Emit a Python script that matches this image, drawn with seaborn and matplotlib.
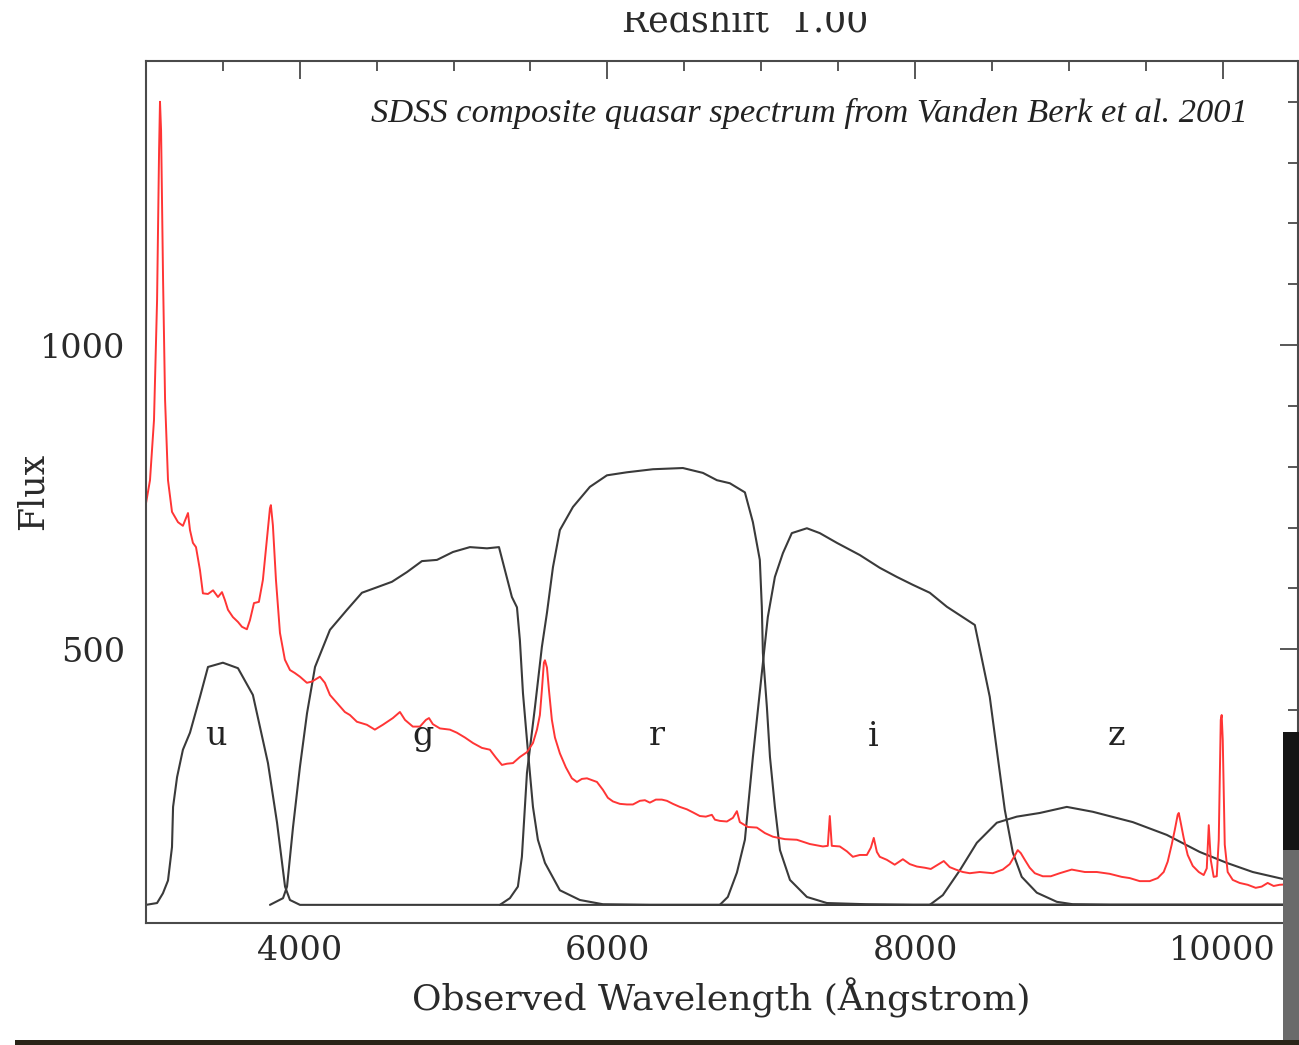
import matplotlib
matplotlib.use("Agg")
import matplotlib.pyplot as plt
import seaborn as sns
import pandas as pd
from matplotlib.patches import Rectangle
from matplotlib.ticker import MultipleLocator

# ---------------- data ----------------
spec_wave = [3000, 3026, 3052, 3072, 3085, 3091, 3098, 3111, 3124, 3143,
             3169, 3208, 3240, 3260, 3273, 3286, 3305, 3325, 3351, 3370,
             3403, 3436, 3468, 3494, 3513, 3533, 3565, 3598, 3624, 3656,
             3676, 3702, 3734, 3760, 3786, 3806, 3812, 3825, 3845, 3871,
             3903, 3936, 3968, 4001, 4046, 4079, 4131, 4163, 4196, 4241,
             4293, 4326, 4371, 4436, 4488, 4540, 4605, 4651, 4684, 4735,
             4781, 4820, 4840, 4865, 4911, 4976, 5021, 5074, 5126, 5184,
             5236, 5275, 5314, 5347, 5386, 5431, 5477, 5516, 5542, 5561,
             5574, 5587, 5594, 5607, 5620, 5639, 5659, 5691, 5730, 5769,
             5802, 5834, 5867, 5899, 5932, 5971, 6003, 6036, 6081, 6127,
             6166, 6211, 6244, 6276, 6315, 6354, 6387, 6426, 6471, 6517,
             6556, 6601, 6640, 6679, 6699, 6731, 6777, 6816, 6842, 6861,
             6913, 6972, 7024, 7076, 7154, 7232, 7316, 7401, 7433, 7446,
             7459, 7511, 7557, 7596, 7641, 7687, 7713, 7732, 7752, 7771,
             7817, 7868, 7921, 7966, 8012, 8064, 8103, 8148, 8187, 8226,
             8265, 8311, 8356, 8421, 8506, 8571, 8616, 8649, 8668, 8688,
             8714, 8746, 8779, 8831, 8883, 8941, 9019, 9104, 9182, 9266,
             9344, 9396, 9461, 9526, 9578, 9617, 9643, 9669, 9689, 9708,
             9715, 9727, 9747, 9773, 9806, 9845, 9877, 9897, 9910, 9923,
             9942, 9962, 9975, 9988, 9994, 10001, 10014, 10033, 10066, 10111,
             10163, 10215, 10254, 10293, 10332, 10371, 10436]
spec_flux = [740, 778, 877, 1074, 1320, 1400, 1353, 1107, 910, 778,
             726, 709, 703, 716, 724, 696, 675, 668, 630, 592,
             591, 597, 586, 594, 581, 565, 553, 545, 537, 533,
             548, 576, 578, 614, 680, 732, 737, 704, 614, 527,
             483, 466, 461, 455, 445, 447, 455, 445, 425, 412,
             397, 392, 381, 376, 368, 376, 387, 397, 384, 373,
             373, 384, 387, 377, 370, 368, 363, 355, 346, 338,
             335, 322, 310, 312, 313, 323, 331, 346, 368, 392,
             433, 478, 482, 470, 433, 384, 355, 329, 306, 288,
             282, 287, 288, 285, 282, 269, 256, 250, 246, 245,
             245, 251, 252, 248, 253, 253, 251, 246, 241, 237,
             232, 226, 225, 228, 220, 218, 217, 223, 234, 216,
             208, 207, 198, 192, 188, 187, 180, 176, 177, 226,
             177, 176, 168, 159, 162, 162, 174, 190, 167, 159,
             154, 146, 155, 147, 143, 141, 139, 146, 152, 142,
             138, 134, 132, 134, 132, 138, 147, 161, 170, 165,
             154, 141, 132, 127, 127, 132, 138, 134, 134, 131,
             126, 124, 119, 119, 124, 134, 151, 179, 203, 228,
             231, 216, 190, 162, 144, 134, 129, 140, 211, 154,
             126, 127, 187, 384, 392, 351, 179, 134, 121, 116,
             113, 108, 110, 116, 111, 113, 114]

u_wave = [3000, 3072, 3110, 3143, 3169, 3176, 3202, 3240, 3286, 3351, 3403,
          3500, 3598, 3695, 3793, 3852, 3904, 3936, 4001, 10490]
u_resp = [80, 83, 99, 120, 175, 241, 290, 335, 363, 422, 471,
          478, 469, 425, 313, 215, 110, 88, 80, 80]

g_wave = [3806, 3891, 3917, 3956, 4001, 4047, 4099, 4196, 4307, 4404, 4502,
          4599, 4697, 4794, 4892, 4996, 5106, 5217, 5295, 5379, 5412, 5431,
          5451, 5477, 5496, 5516, 5548, 5594, 5691, 5821, 5971, 6276, 10490]
g_resp = [80, 91, 110, 208, 307, 395, 471, 532, 565, 593, 602,
          611, 627, 645, 647, 660, 668, 666, 668, 586, 569, 515,
          428, 351, 297, 241, 187, 149, 104, 88, 81, 80, 80]

r_wave = [5301, 5366, 5418, 5444, 5477, 5529, 5574, 5607, 5646, 5691, 5776,
          5886, 5997, 6127, 6296, 6491, 6621, 6712, 6796, 6894, 6946, 6991,
          7004, 7011, 7037, 7057, 7089, 7122, 7187, 7297, 7427, 7687, 7986,
          10490]
r_resp = [80, 91, 110, 159, 297, 405, 504, 560, 635, 696, 734,
          767, 786, 791, 796, 798, 790, 778, 773, 758, 709, 647,
          570, 494, 405, 323, 241, 170, 121, 93, 83, 81, 80,
          80]

i_wave = [6731, 6783, 6842, 6894, 6946, 7004, 7043, 7089, 7141, 7199, 7297,
          7381, 7492, 7641, 7771, 7882, 7986, 8096, 8207, 8389, 8486, 8538,
          8584, 8636, 8694, 8792, 8922, 9026, 9267, 10490]
i_resp = [80, 93, 133, 187, 323, 461, 553, 619, 658, 691, 699,
          691, 675, 655, 634, 619, 606, 593, 570, 540, 422, 323,
          236, 166, 126, 100, 85, 81, 80, 80]

z_wave = [8096, 8181, 8292, 8402, 8532, 8662, 8811, 8987, 9156, 9416, 9637,
          9851, 10027, 10196, 10385, 10490]
z_resp = [80, 96, 137, 182, 215, 225, 231, 241, 233, 216, 195,
          167, 149, 134, 123, 118]

band_names = ["u", "g", "r", "i", "z"]
band_label_wave = [3455, 4801, 6323, 7728, 9308]
band_label_flux = [343, 343, 343, 341, 343]

title_text = "Redshift  1.00"
source_text = "SDSS composite quasar spectrum from Vanden Berk et al. 2001"
xlabel_text = "Observed Wavelength (Ångstrom)"
ylabel_text = "Flux"

# ---------------- figure ----------------
sns.set_theme(style="white")
plt.rcParams['font.family'] = ['DejaVu Serif']

W, H = 1299, 1045
fig = plt.figure(figsize=(W / 100, H / 100), dpi=100)
fig.patch.set_facecolor("white")
L, R, T, B = 146, 1297.5, 61, 922.5
ax = fig.add_axes([L / W, 1 - B / H, (R - L) / W, (B - T) / H])
ax.set_facecolor("white")

filt_df = pd.concat([
    pd.DataFrame({"wave": w, "resp": r, "band": b})
    for w, r, b in zip([u_wave, g_wave, r_wave, i_wave, z_wave],
                       [u_resp, g_resp, r_resp, i_resp, z_resp], band_names)
], ignore_index=True)

sns.lineplot(data=filt_df, x="wave", y="resp", units="band", estimator=None,
             sort=False, color="#3a3a3a", lw=1.5, ax=ax, legend=False)
sns.lineplot(x=spec_wave, y=spec_flux, estimator=None, sort=False,
             color="#ff3535", lw=1.4, ax=ax, legend=False)

for name, xw, yf in zip(band_names, band_label_wave, band_label_flux):
    ax.text(xw, yf, name, fontsize=24, color="#222222", ha="center",
            va="baseline", family="DejaVu Serif")

ax.text((809 - L) / (R - L), (B - 121.7) / (B - T), source_text,
        transform=ax.transAxes, fontsize=24.8,
        style="italic", family="Liberation Serif", color="#222222",
        ha="center", va="baseline")

ax.set_xlim(3000, 10487)
ax.set_ylim(51, 1467)
ax.xaxis.set_major_locator(MultipleLocator(2000))
ax.xaxis.set_minor_locator(MultipleLocator(500))
ax.yaxis.set_major_locator(MultipleLocator(500))
ax.yaxis.set_minor_locator(MultipleLocator(100))

for s in ax.spines.values():
    s.set_color("#4a4a4a")
    s.set_linewidth(1.5)
    s.set_visible(True)

ax.tick_params(which="both", direction="in", top=True, right=True,
               color="#4a4a4a", width=1.3, labelcolor="#2a2a2a")
ax.tick_params(which="major", length=13, labelsize=24)
ax.tick_params(which="minor", length=7)
ax.tick_params(axis="x", which="major", pad=9)
ax.tick_params(axis="y", which="major", pad=15)

ax.set_xlabel(xlabel_text, fontsize=26, color="#2a2a2a", labelpad=7.5)
ax.set_ylabel(ylabel_text, fontsize=25, color="#2a2a2a")
ax.yaxis.set_label_coords((50 - L) / (R - L), 0.5)

fig.text(745 / W, 1 - 32 / H, title_text, fontsize=25, color="#2a2a2a",
         ha="center", va="baseline")

# screenshot artefacts: clipped top edge, dark panels at right and bottom
fig.add_artist(Rectangle((0, 1 - 12 / H), 1, 12 / H, transform=fig.transFigure,
                         facecolor="white", edgecolor="none", zorder=20))
fig.add_artist(Rectangle((1283 / W, 1 - 850 / H), 16 / W, 118 / H,
                         transform=fig.transFigure, facecolor="#151515",
                         edgecolor="none", zorder=20))
fig.add_artist(Rectangle((1283 / W, 0), 16 / W, 1 - 850 / H,
                         transform=fig.transFigure, facecolor="#6a6a6a",
                         edgecolor="none", zorder=20))
fig.add_artist(Rectangle((15 / W, 0), 1 - 15 / W, 5 / H,
                         transform=fig.transFigure, facecolor="#2a2418",
                         edgecolor="none", zorder=20))

fig.savefig("out.png", dpi=100, facecolor="white")
